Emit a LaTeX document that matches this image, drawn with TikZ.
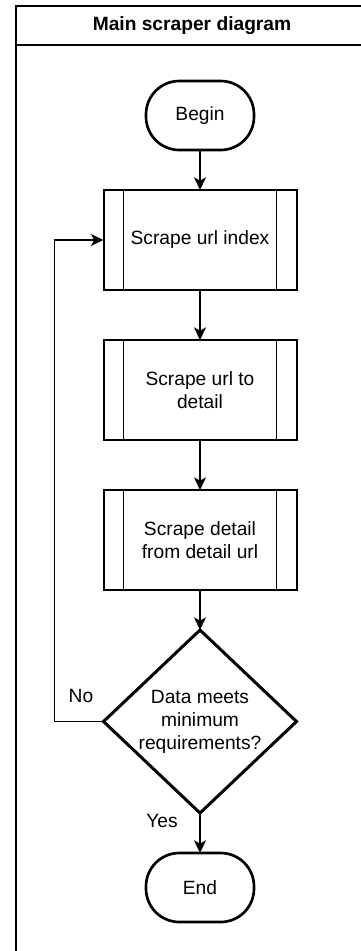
\documentclass[tikz,border=0pt]{standalone}
\usepackage{fontspec}
\setmainfont{Liberation Sans}
\usetikzlibrary{arrows.meta,positioning,shapes.geometric}
\tikzset{
  txt/.style={font=\fontsize{14.4}{17.3}\selectfont},
  termbox/.style={txt,draw,line width=2pt,rounded corners=25pt,minimum width=81pt,minimum height=51.75pt,inner sep=0pt,outer sep=0pt},
  procbox/.style={txt,draw,line width=1.5pt,align=center,minimum width=144.75pt,minimum height=75pt,inner sep=0pt,outer sep=0pt,
    path picture={
      \draw[line width=1.1pt] ([xshift=15pt]path picture bounding box.north west) -- ([xshift=15pt]path picture bounding box.south west);
      \draw[line width=1.1pt] ([xshift=-15pt]path picture bounding box.north east) -- ([xshift=-15pt]path picture bounding box.south east);
    }},
  decbox/.style={txt,diamond,draw,line width=2.25pt,align=center,aspect=1.05,minimum width=144.75pt,minimum height=137.25pt,inner sep=0pt,outer sep=0pt},
  flow/.style={-{Stealth[length=9.5pt,width=9pt,inset=2.5pt]},line width=1pt},
  thickflow/.style={flow,line width=1.4pt},
  frameline/.style={line width=1.5pt,line cap=rect},
  lbl/.style={txt,inner sep=0pt},
}
\begin{document}
\begin{tikzpicture}[x=0.75pt,y=-0.75pt,node distance=30pt]
  \useasboundingbox (0,0) rectangle (361,951);
  % container with its header strip
  \draw[frameline] (361,6) -| (16,951);
  \draw[frameline] (16,45) -- (361,45);
  \node[txt,font=\fontsize{14.4}{17.3}\selectfont\bfseries] (title) at (192,26) {Main scraper diagram};
  % flow
  \node[termbox] (begin) at (200,115.5) {Begin};
  \node[procbox,below=of begin] (index) {Scrape url index};
  \node[procbox,below=37.5pt of index] (todetail) {Scrape url to\\detail};
  \node[procbox,below=37.5pt of todetail] (detail) {Scrape detail\\from detail url};
  \node[decbox,below=of detail] (check) {Data meets\\minimum\\requirements?};
  \node[termbox,below=of check] (end) {End};
  \foreach \a/\b in {begin/index,index/todetail} \draw[thickflow] (\a) -- (\b);
  \foreach \a/\b in {todetail/detail,detail/check,check/end} \draw[flow] (\a) -- (\b);
  \draw[flow] (check.west) -- ++(-49,0) |- (index.west);
  \node[lbl] (no) at (81,696) {No};
  \node[lbl] (yes) at (162,821) {Yes};
\end{tikzpicture}
\end{document}
